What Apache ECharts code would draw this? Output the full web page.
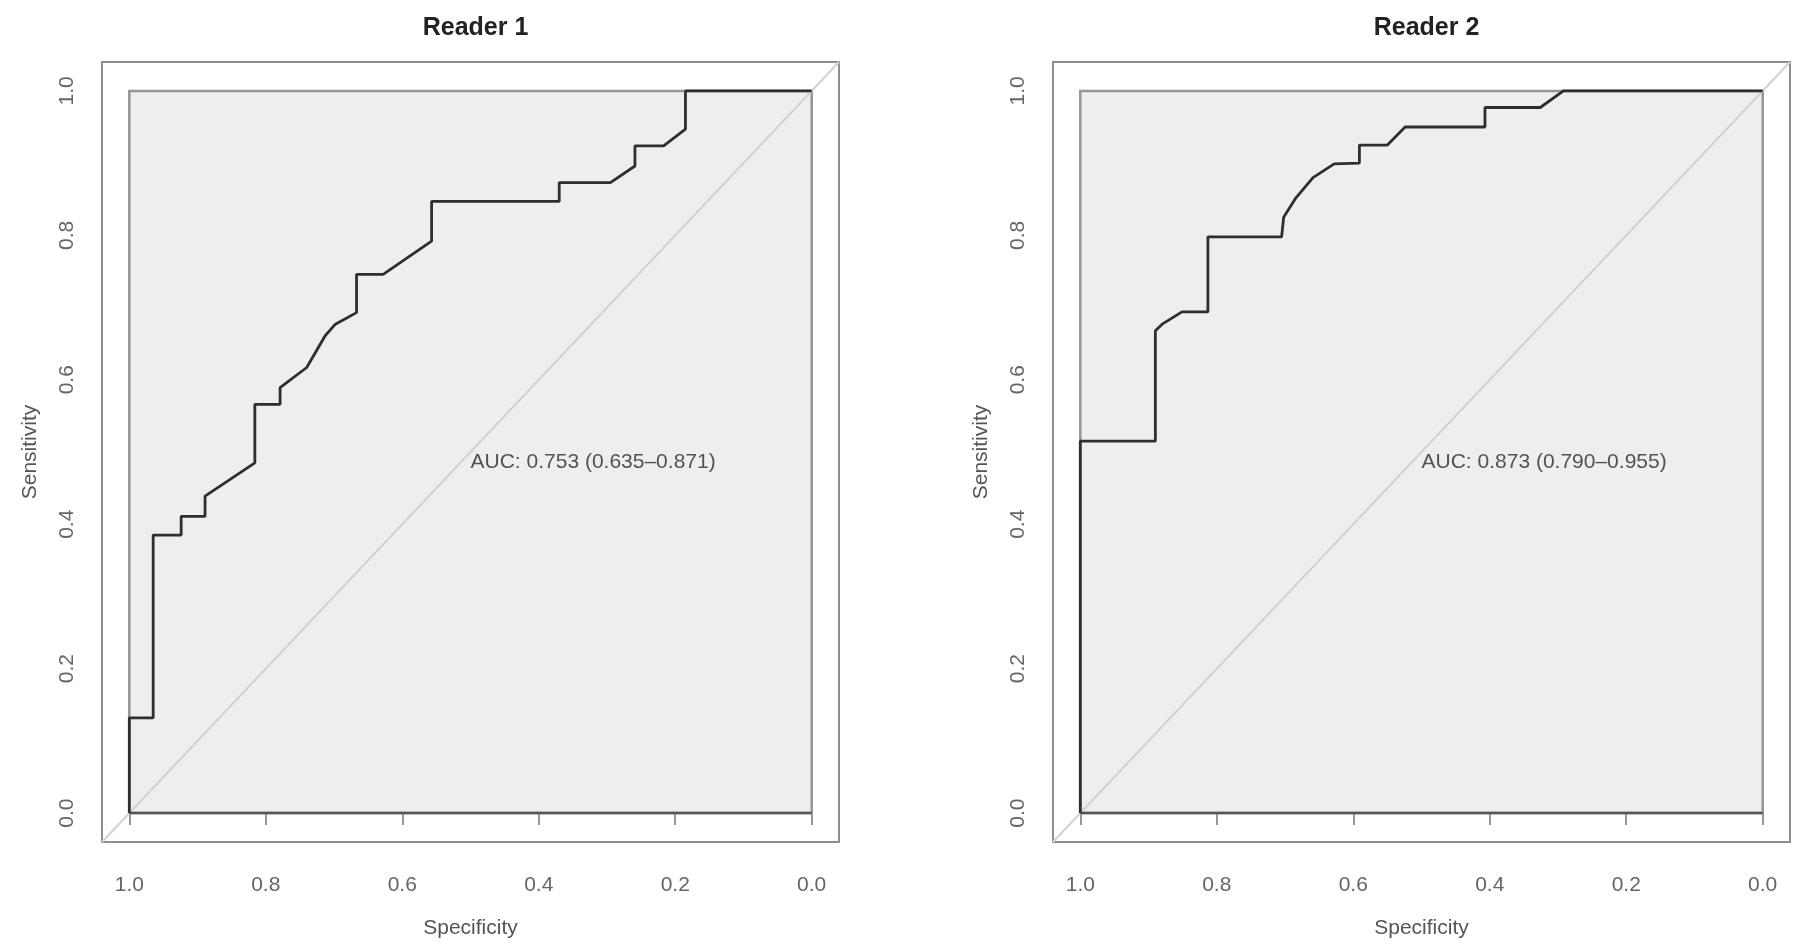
<!DOCTYPE html>
<html>
<head>
<meta charset="utf-8">
<script src="https://cdn.jsdelivr.net/npm/echarts@6/dist/echarts.min.js"></script>
<style>
html,body{margin:0;padding:0;background:#fff;}
#chart{width:1800px;height:946px;}
</style>
</head>
<body>
<div id="chart"></div>
<script>
// ---- Data ----
const panelTitles = ['Reader 1', 'Reader 2'];
const aucTexts = ['AUC: 0.753 (0.635\u20130.871)', 'AUC: 0.873 (0.790\u20130.955)'];
const tickValues = [0, 0.2, 0.4, 0.6, 0.8, 1.0];

const reader1Spec = [1, 1, 0.965, 0.965, 0.924, 0.924, 0.889, 0.889, 0.816, 0.816, 0.779, 0.779, 0.740, 0.713, 0.698, 0.667, 0.667, 0.628, 0.557, 0.557, 0.370, 0.370, 0.295, 0.259, 0.259, 0.217, 0.185, 0.185, 0];
const reader1Sens = [0, 0.132, 0.132, 0.385, 0.385, 0.411, 0.411, 0.439, 0.485, 0.566, 0.566, 0.589, 0.617, 0.661, 0.677, 0.693, 0.746, 0.746, 0.792, 0.847, 0.847, 0.873, 0.873, 0.896, 0.924, 0.924, 0.947, 1, 1];

const reader2Spec = [1, 1, 0.890, 0.890, 0.880, 0.851, 0.813, 0.813, 0.705, 0.702, 0.684, 0.659, 0.628, 0.591, 0.591, 0.550, 0.524, 0.407, 0.407, 0.326, 0.292, 0];
const reader2Sens = [0, 0.515, 0.515, 0.668, 0.677, 0.694, 0.694, 0.798, 0.798, 0.825, 0.852, 0.880, 0.899, 0.900, 0.925, 0.925, 0.950, 0.950, 0.977, 0.977, 1, 1];

const squareCorners = [[1, 0], [0, 1]];
const baselinePts = [[1, 0], [0, 0]];
const diagonalPts = [[1.04, -0.04], [-0.04, 1.04]];
const aucPos = [0.5, 0.5];
const axisMin = -0.04, axisMax = 1.04;

// ---- Build ----
const zip = (a, b) => a.map((v, i) => [v, b[i]]);
const curves = [zip(reader1Spec, reader1Sens), zip(reader2Spec, reader2Sens)];

const FONT = '"Liberation Sans", Arial, Helvetica, sans-serif';
const gridLefts = [102, 1053];
const gridW = 737, gridTop = 62, gridH = 780;

const grids = [], xAxes = [], yAxes = [], series = [], titles = [];
for (let p = 0; p < 2; p++) {
  grids.push({
    left: gridLefts[p], top: gridTop, width: gridW, height: gridH,
    show: true, borderColor: '#8e8e8e', borderWidth: 2, backgroundColor: '#ffffff'
  });
  titles.push({
    text: panelTitles[p], left: gridLefts[p] + gridW / 2, top: 11, textAlign: 'center',
    textStyle: { fontFamily: FONT, fontWeight: 'bold', fontSize: 25, color: '#222' }
  });
  xAxes.push({
    gridIndex: p, type: 'value', inverse: true, min: axisMin, max: axisMax,
    name: 'Specificity', nameLocation: 'middle', nameGap: 76,
    nameTextStyle: { fontFamily: FONT, fontSize: 21, color: '#555' },
    axisLine: { show: false }, splitLine: { show: false },
    axisTick: { show: true, length: 12, customValues: tickValues, lineStyle: { color: '#777', width: 1.5 } },
    axisLabel: { customValues: tickValues, formatter: v => v.toFixed(1), margin: 33,
      fontFamily: FONT, fontSize: 21, color: '#666' }
  });
  yAxes.push({
    gridIndex: p, type: 'value', min: axisMin, max: axisMax,
    name: 'Sensitivity', nameLocation: 'middle', nameGap: 61,
    nameTextStyle: { fontFamily: FONT, fontSize: 21, color: '#555' },
    axisLine: { show: false }, splitLine: { show: false },
    axisTick: { show: true, length: 12, customValues: tickValues, lineStyle: { color: '#777', width: 1.5 } },
    axisLabel: { customValues: tickValues, formatter: v => v.toFixed(1), rotate: 90, margin: 24,
      fontFamily: FONT, fontSize: 21, color: '#666' }
  });
  // square polygon + diagonal
  series.push({
    type: 'line', xAxisIndex: p, yAxisIndex: p, data: diagonalPts, symbol: 'none', z: 2,
    lineStyle: { color: '#d2d2d2', width: 2 }, silent: true,
    markArea: {
      silent: true,
      itemStyle: { color: '#eeeeee', borderColor: '#959595', borderWidth: 2.5 },
      data: [[{ coord: squareCorners[0] }, { coord: squareCorners[1] }]]
    }
  });
  series.push({
    type: 'line', xAxisIndex: p, yAxisIndex: p, data: baselinePts, symbol: 'none', z: 3,
    lineStyle: { color: '#555', width: 2.5 }, silent: true
  });
  series.push({
    type: 'line', xAxisIndex: p, yAxisIndex: p, data: curves[p], symbol: 'none', z: 4,
    lineStyle: { color: '#2e2e2e', width: 2.8 }, silent: true
  });
  series.push({
    type: 'scatter', xAxisIndex: p, yAxisIndex: p, data: [aucPos], symbolSize: 0, z: 5, silent: true,
    label: { show: true, position: [0, 0], align: 'left', verticalAlign: 'top',
      formatter: aucTexts[p], fontFamily: FONT, fontSize: 21, color: '#2a2a2a' }
  });
}

const chart = echarts.init(document.getElementById('chart'), null, { renderer: 'canvas' });
chart.setOption({
  backgroundColor: '#ffffff',
  animation: false,
  title: titles,
  grid: grids,
  xAxis: xAxes,
  yAxis: yAxes,
  series: series
});
</script>
</body>
</html>
